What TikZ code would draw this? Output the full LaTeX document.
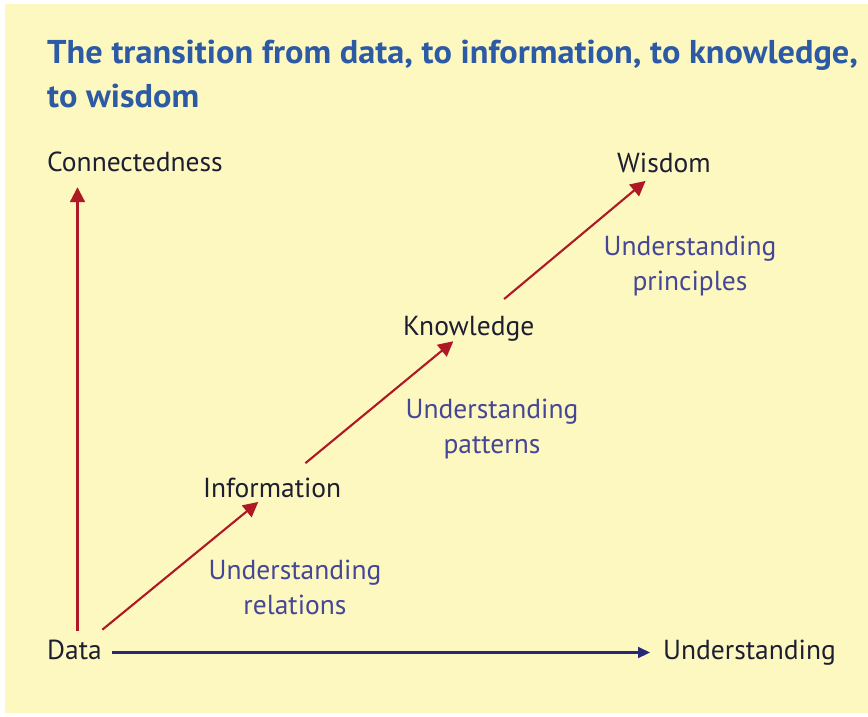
\documentclass[tikz,border=0pt]{standalone}
\usepackage{fontspec}
\setmainfont{PT Sans}
\usetikzlibrary{arrows.meta}
\definecolor{bgyellow}{RGB}{252,248,192}
\definecolor{titlec}{RGB}{45,90,165}
\definecolor{labelc}{RGB}{30,30,50}
\definecolor{notec}{RGB}{70,70,150}
\definecolor{redc}{RGB}{175,25,35}
\definecolor{navyc}{RGB}{40,40,120}
\begin{document}
\begin{tikzpicture}[x=1pt,y=-1pt,
  titletext/.style={inner sep=0pt, anchor=base west, text=titlec, font=\fontsize{33}{40}\selectfont\bfseries},
  lbl/.style={inner sep=0pt, anchor=base west, text=labelc, text height=19pt, text depth=6pt, font=\fontsize{27.5}{30}\selectfont},
  note/.style={inner sep=0pt, anchor=north, text=notec, align=center, font=\fontsize{27.5}{35}\selectfont},
  redarr/.style={draw=redc, line width=2.1pt, -{Triangle[length=15pt,width=15pt]}},
  bluearr/.style={draw=navyc, line width=2.1pt, -{Triangle[length=12pt,width=11pt]}}]
\useasboundingbox (0,0) rectangle (868,716);
\fill[white] (0,0) rectangle (868,716);
\fill[bgyellow] (5,4) rectangle (868,713);
\node[titletext] (title1) at (47,63) {\scalebox{1.04}[1]{The transition from data, to information, to knowledge,}};
\node[titletext] (title2) at (47,107) {\scalebox{1.04}[1]{to wisdom}};
\node[lbl] (conn) at (47,171) {Connectedness};
\node[lbl] (data) at (47,659) {Data};
\node[lbl] (und) at (663,659) {Understanding};
\node[lbl] (info) at (203,497) {Information};
\node[lbl] (know) at (403,335) {Knowledge};
\node[lbl] (wis) at (617,172) {Wisdom};
\node[note] (n1) at (295,560) {Understanding\\relations};
\node[note] (n2) at (492,399) {Understanding\\patterns};
\node[note] (n3) at (690,236) {Understanding\\principles};
\draw[redarr, shorten <=9pt, shorten >=10pt] ([xshift=3pt]data.north) -- ([xshift=3pt]data.north |- conn.south);
\draw[bluearr, shorten <=10pt, shorten >=13pt] (data.east) -- (data.east -| und.west);
\draw[redarr, shorten <=36pt, shorten >=18pt] (data.center) -- (info.center);
\draw[redarr, shorten <=43pt, shorten >=20pt] (info.center) -- (know.center);
\draw[redarr, shorten <=46pt, shorten >=24pt] (know.center) -- (wis.center);
\end{tikzpicture}
\end{document}
